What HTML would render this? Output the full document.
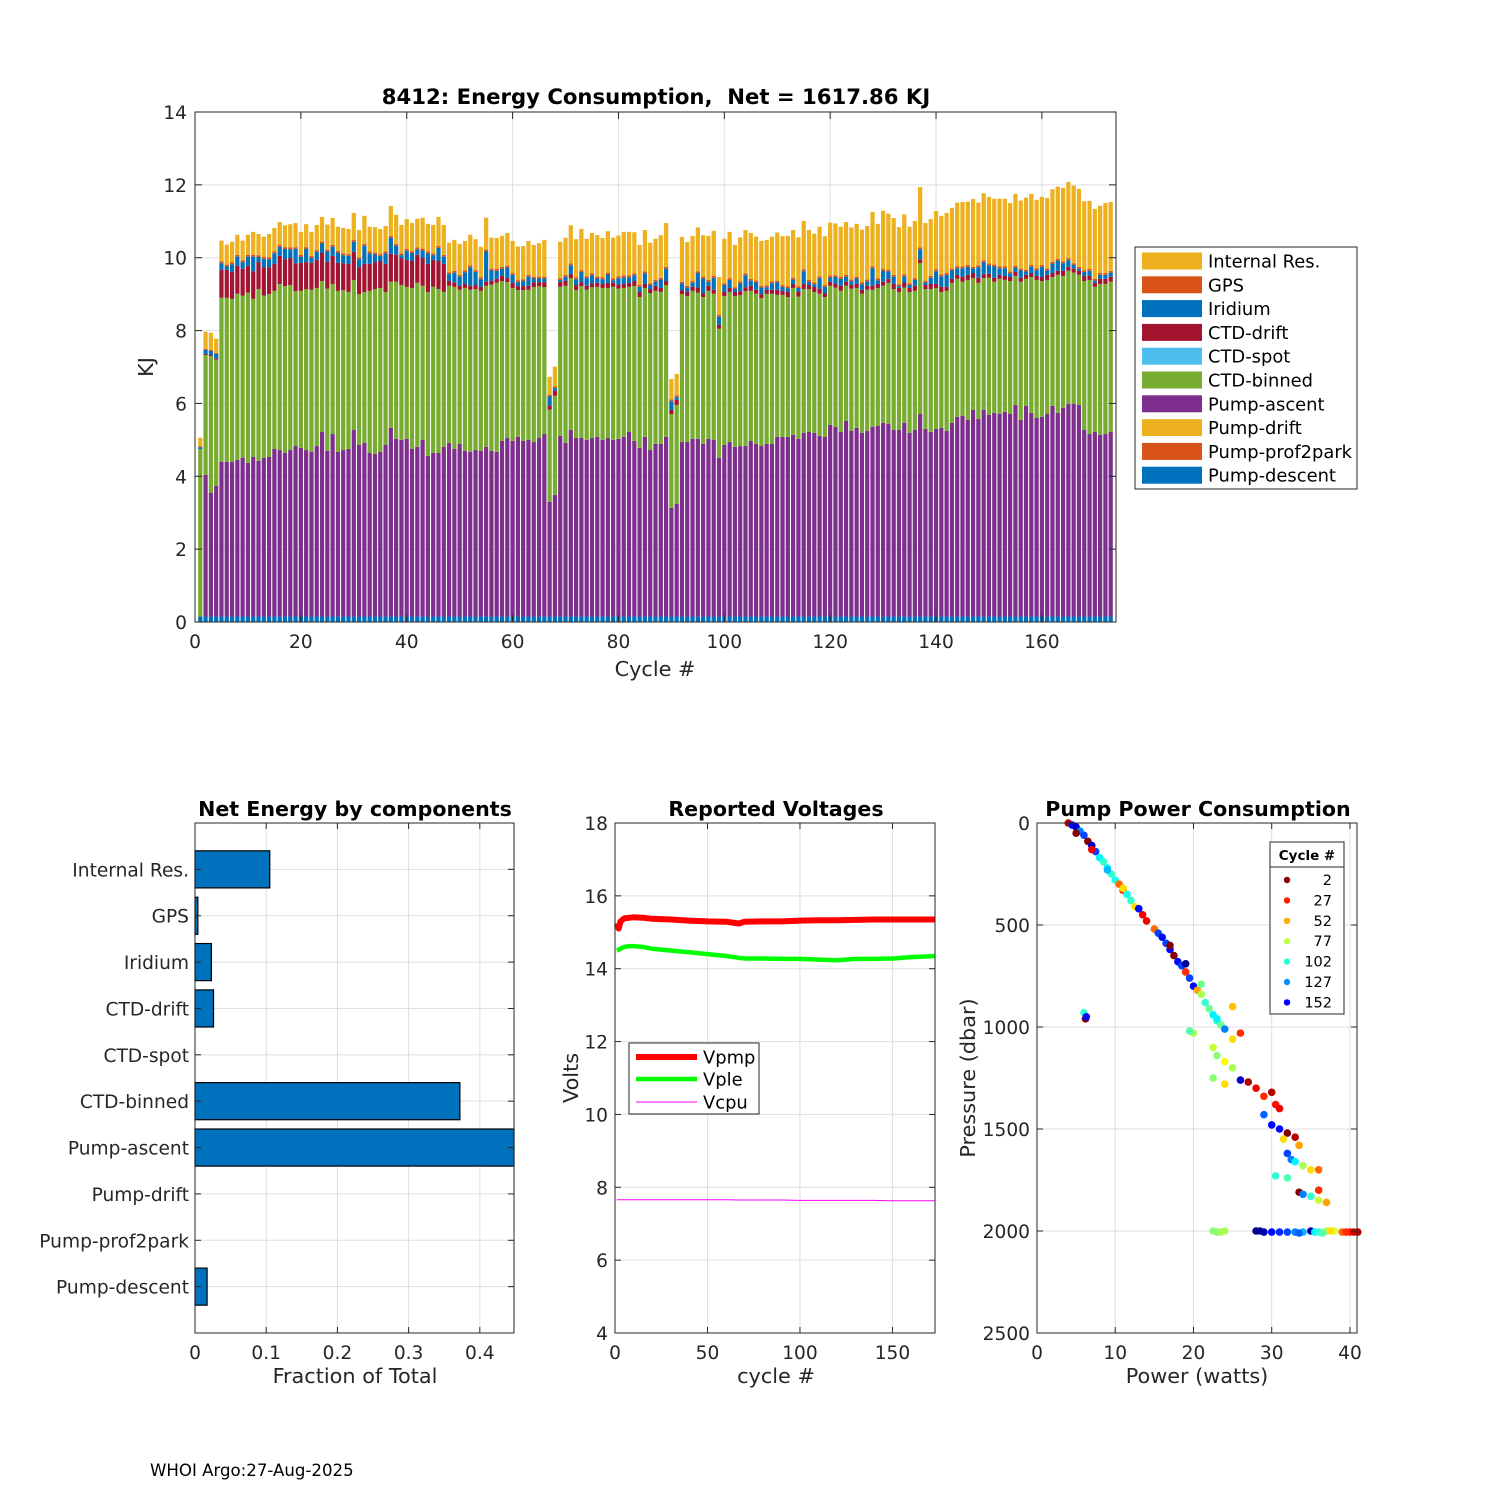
<!DOCTYPE html>
<html><head><meta charset="utf-8">
<style>
html,body{margin:0;padding:0;background:#fff;}
svg{display:block;font-family:"DejaVu Sans","Liberation Sans",sans-serif;}
text{white-space:pre;}
</style></head>
<body>
<svg id="fig" width="1500" height="1500" viewBox="0 0 1500 1500" xmlns="http://www.w3.org/2000/svg">
<rect x="0" y="0" width="1500" height="1500" fill="#fff"/>
<text x="150" y="1476" font-size="16.6" fill="#000">WHOI Argo:27-Aug-2025</text>
</svg>
<script>
// ===== Top chart data (KJ per cycle, cycles 1..173) =====
const pumpAscent=[0,3.89,3.40,3.59,4.25,4.25,4.25,4.30,4.36,4.22,4.38,4.27,4.36,4.38,4.60,4.57,4.49,4.57,4.68,4.63,4.57,4.52,4.68,5.07,4.55,5.01,4.52,4.57,4.60,5.12,4.71,4.77,4.49,4.46,4.52,4.71,5.18,4.88,4.85,4.88,4.60,4.66,4.85,4.41,4.49,4.49,4.66,4.77,4.60,4.74,4.55,4.52,4.57,4.55,4.66,4.55,4.52,4.82,4.90,4.82,4.93,4.82,4.85,4.79,4.90,5.01,3.15,3.34,4.96,4.77,5.12,4.90,4.90,4.85,4.90,4.93,4.85,4.90,4.85,4.88,4.93,5.07,4.82,4.63,4.93,4.57,4.74,4.74,4.93,2.98,3.09,4.79,4.79,4.88,4.88,4.74,4.88,4.85,4.36,4.71,4.79,4.66,4.68,4.68,4.82,4.74,4.68,4.74,4.74,4.93,4.93,4.93,4.99,4.88,5.04,5.07,5.04,4.96,4.93,5.26,5.21,5.07,5.37,5.10,5.18,5.04,5.10,5.21,5.23,5.32,5.29,5.12,5.12,5.32,5.04,5.12,5.56,5.15,5.07,5.15,5.18,5.10,5.32,5.48,5.51,5.40,5.67,5.43,5.67,5.54,5.59,5.56,5.62,5.56,5.81,5.40,5.78,5.59,5.45,5.48,5.56,5.78,5.59,5.73,5.84,5.84,5.81,5.12,5.01,5.07,4.99,5.01,5.07];
const ctdBinned=[4.6,3.29,3.75,3.46,4.50,4.50,4.47,4.56,4.45,4.67,4.34,4.72,4.45,4.47,4.34,4.56,4.58,4.53,4.25,4.31,4.42,4.45,4.34,4.14,4.45,4.12,4.42,4.39,4.31,4.12,4.14,4.14,4.45,4.53,4.50,4.20,4.01,4.31,4.25,4.17,4.42,4.50,4.23,4.50,4.56,4.50,4.25,4.31,4.45,4.23,4.47,4.45,4.42,4.39,4.42,4.56,4.64,4.39,4.28,4.20,4.03,4.14,4.12,4.25,4.17,4.03,2.53,2.72,4.09,4.31,4.17,4.06,4.17,4.12,4.14,4.12,4.17,4.12,4.20,4.12,4.09,3.98,4.25,4.14,4.09,4.31,4.20,4.17,4.17,2.58,2.72,4.06,4.01,4.06,4.01,4.03,4.06,4.01,3.54,4.09,4.12,4.14,4.14,4.25,4.12,4.12,4.06,4.12,4.12,3.90,3.90,3.84,4.03,3.90,3.95,3.92,3.87,3.90,3.84,3.82,3.82,3.87,3.71,3.90,3.84,3.82,3.87,3.76,3.79,3.76,3.87,3.87,3.79,3.71,3.87,3.82,4.14,3.84,3.92,3.87,3.73,3.84,3.84,3.79,3.68,3.84,3.62,3.73,3.62,3.76,3.60,3.71,3.62,3.65,3.54,3.79,3.49,3.73,3.79,3.73,3.68,3.54,3.79,3.62,3.65,3.60,3.57,4.09,4.23,3.98,4.14,4.12,4.12];
const ctdDrift=[0,0.03,0.03,0.03,0.77,0.77,0.74,0.77,0.74,0.74,0.75,0.74,0.77,0.74,0.74,0.77,0.74,0.74,0.77,0.77,0.74,0.74,0.77,0.77,0.74,0.77,0.77,0.74,0.77,0.77,0.74,0.77,0.74,0.74,0.74,0.77,0.77,0.74,0.74,0.74,0.74,0.77,0.77,0.77,0.74,0.77,0.77,0.14,0.11,0.11,0.11,0.11,0.11,0.11,0.11,0.11,0.11,0.14,0.11,0.14,0.11,0.11,0.11,0.14,0.11,0.14,0.11,0.14,0.14,0.14,0.11,0.14,0.11,0.11,0.11,0.11,0.11,0.14,0.11,0.11,0.11,0.11,0.14,0.14,0.11,0.11,0.14,0.11,0.11,0.11,0.14,0.11,0.11,0.11,0.14,0.11,0.14,0.11,0.11,0.11,0.11,0.11,0.11,0.11,0.14,0.11,0.11,0.11,0.11,0.14,0.11,0.14,0.11,0.14,0.14,0.11,0.14,0.14,0.11,0.11,0.11,0.14,0.11,0.11,0.11,0.11,0.11,0.11,0.11,0.11,0.11,0.14,0.11,0.14,0.11,0.14,0.11,0.11,0.14,0.11,0.14,0.11,0.11,0.11,0.14,0.14,0.14,0.14,0.11,0.11,0.11,0.11,0.11,0.11,0.11,0.11,0.11,0.11,0.11,0.11,0.14,0.11,0.11,0.14,0.11,0.11,0.11,0.14,0.11,0.11,0.14,0.14,0.14];
const iridium=[0.05,0.11,0.11,0.13,0.18,0.09,0.21,0.25,0.18,0.25,0.41,0.14,0.24,0.22,0.29,0.25,0.28,0.24,0.39,0.17,0.36,0.14,0.22,0.26,0.28,0.25,0.28,0.22,0.22,0.28,0.22,0.50,0.29,0.21,0.14,0.29,0.44,0.25,0.08,0.25,0.22,0.15,0.20,0.29,0.13,0.36,0.20,0.18,0.28,0.25,0.32,0.51,0.36,0.21,0.83,0.28,0.22,0.20,0.29,0.22,0.11,0.14,0.25,0.10,0.10,0.10,0.25,0.07,0.05,0.11,0.24,0.16,0.28,0.21,0.22,0.12,0.13,0.23,0.07,0.18,0.18,0.15,0.16,0.14,0.29,0.11,0.11,0.23,0.34,0.24,0.07,0.18,0.12,0.11,0.40,0.40,0.11,0.33,0.22,0.19,0.22,0.08,0.22,0.33,0.14,0.20,0.18,0.07,0.18,0.20,0.11,0.10,0.12,0.10,0.35,0.09,0.07,0.29,0.17,0.12,0.18,0.19,0.14,0.09,0.15,0.15,0.12,0.48,0.10,0.30,0.20,0.20,0.05,0.17,0.08,0.16,0.27,0.07,0.17,0.35,0.29,0.33,0.23,0.18,0.23,0.22,0.12,0.29,0.33,0.23,0.31,0.18,0.21,0.10,0.12,0.20,0.09,0.17,0.16,0.28,0.12,0.26,0.28,0.21,0.18,0.10,0.06,0.11,0.14,0.06,0.11,0.11,0.11];
const gpsVals=[0.02,0.03,0.03,0.03,0.05];
const internalRes=[0.24,0.47,0.47,0.39,0.57,0.55,0.57,0.55,0.54,0.55,0.63,0.58,0.56,0.64,0.65,0.63,0.60,0.64,0.66,0.63,0.63,0.66,0.69,0.68,0.69,0.74,0.66,0.70,0.69,0.74,0.75,0.77,0.68,0.70,0.69,0.70,0.82,0.80,0.78,0.82,0.77,0.79,0.85,0.76,0.78,0.80,0.82,0.81,0.85,0.85,0.81,0.84,0.85,0.84,0.88,0.85,0.85,0.85,0.90,0.88,0.93,0.91,0.93,0.87,0.92,1.01,0.49,0.54,1.00,1.02,1.05,1.05,1.13,1.03,1.11,1.14,1.08,1.14,1.12,1.12,1.20,1.20,1.13,1.10,1.14,1.11,1.13,1.17,1.20,0.56,0.59,1.23,1.20,1.24,1.20,1.14,1.21,1.24,1.04,1.22,1.27,1.16,1.21,1.19,1.26,1.21,1.23,1.25,1.23,1.32,1.34,1.39,1.31,1.34,1.33,1.37,1.34,1.36,1.34,1.45,1.42,1.38,1.45,1.43,1.45,1.45,1.47,1.50,1.50,1.60,1.54,1.56,1.57,1.65,1.55,1.57,1.66,1.58,1.56,1.60,1.61,1.65,1.67,1.75,1.77,1.74,1.86,1.72,1.84,1.83,1.81,1.86,1.86,1.88,1.97,1.87,1.98,1.95,1.88,1.87,1.94,1.99,1.98,2.02,2.10,2.13,2.14,1.89,1.87,1.92,1.85,1.92,1.89];
const pumpDescentVal=0.15;
const topYTicks=[0,2,4,6,8,10,12,14];
const topXTicks=[0,20,40,60,80,100,120,140,160];
const seriesNames=["Internal Res.","GPS","Iridium","CTD-drift","CTD-spot","CTD-binned","Pump-ascent","Pump-drift","Pump-prof2park","Pump-descent"];
const seriesColors=["#EDB120","#D95319","#0072BD","#A2142F","#4DBEEE","#77AC30","#7E2F8E","#EDB120","#D95319","#0072BD"];

// ===== Bottom-left: fraction of total =====
const fracCategories=["Internal Res.","GPS","Iridium","CTD-drift","CTD-spot","CTD-binned","Pump-ascent","Pump-drift","Pump-prof2park","Pump-descent"];
const fracValues=[0.105,0.004,0.023,0.026,0,0.372,0.448,0,0,0.017];
const fracXTicks=[0,0.1,0.2,0.3,0.4];

// ===== Bottom-middle: voltages =====
const voltCycles=[1,2,3,5,8,10,15,20,30,40,50,60,67,70,80,90,100,110,120,130,140,150,160,173];
const vpmp=[15.25,15.1,15.3,15.38,15.4,15.41,15.4,15.37,15.35,15.32,15.3,15.29,15.24,15.29,15.3,15.3,15.32,15.33,15.33,15.34,15.35,15.35,15.35,15.35];
const vple=[14.5,14.52,14.55,14.6,14.62,14.62,14.6,14.55,14.5,14.45,14.4,14.35,14.3,14.28,14.28,14.27,14.27,14.25,14.23,14.27,14.27,14.28,14.32,14.35];
const vcpu=[7.66,7.66,7.66,7.66,7.66,7.66,7.66,7.66,7.66,7.66,7.66,7.66,7.65,7.65,7.65,7.65,7.64,7.64,7.64,7.64,7.64,7.63,7.63,7.63];
const voltYTicks=[4,6,8,10,12,14,16,18];
const voltXTicks=[0,50,100,150];

// ===== Bottom-right: pump power scatter =====
const scPower=[4,4.5,5,5.5,6,6.5,7,7.5,8,8.5,9,9.5,10,10.5,11,11.5,12,12.5,13,13.5,14,15,15.5,16,16.5,17,17.5,18,18.5,19,19.5,20,20.5,21,21.5,22,22.5,23,23.5,24,25,26,25,6,6.2,6.3,20,19.5,22.5,23,24,25,22.5,24,27,26,28,29,30,30.5,31,29,30,31,32,31.5,33,33.5,32,32.5,33,34,35,36,30.5,32,33.5,34,35,36,37,36,22.5,23,23.5,24,28,28.5,29,30,31,32,33,34,35,35.5,36,37,38,39,40,41,37.5,36.5,33.5,39.5,40.5,5,7,9,11,13,17,19,21,23];
const scPressure=[0,10,20,40,60,90,110,140,170,190,220,250,280,300,330,350,380,410,420,450,480,520,540,560,590,620,650,680,700,730,760,800,820,840,880,910,940,970,990,1010,900,1030,1060,930,960,950,1030,1020,1100,1140,1170,1200,1250,1280,1270,1260,1300,1340,1320,1380,1400,1430,1480,1500,1520,1550,1540,1580,1620,1650,1660,1680,1700,1700,1730,1740,1810,1820,1830,1850,1860,1800,2000,2005,2005,2000,2000,2000,2005,2005,2005,2005,2005,2005,2000,2005,2005,2000,2000,2005,2005,2005,2000,2010,2010,2005,2005,50,130,230,320,420,600,690,790,960];
const scCycle=[10,150,160,130,140,2,160,140,110,100,110,100,105,40,30,105,100,60,130,20,20,40,140,150,140,150,2,150,140,30,140,150,50,80,100,90,110,100,90,130,55,30,60,100,2,150,80,95,75,85,65,80,85,60,10,160,20,30,10,25,20,135,150,150,2,60,10,50,140,130,110,80,60,40,100,95,2,130,100,75,50,30,85,85,80,80,170,168,165,150,145,140,130,120,168,110,100,80,70,40,25,10,60,95,135,30,15,2,20,120,60,150,2,170,90,110];
const scLegendCycles=[2,27,52,77,102,127,152];
const pressYTicks=[0,500,1000,1500,2000,2500];
const powerXTicks=[0,10,20,30,40];

const NS="http://www.w3.org/2000/svg";
const svg=document.getElementById('fig');
function el(tag,attrs,parent){const e=document.createElementNS(NS,tag);for(const k in attrs)e.setAttribute(k,attrs[k]);(parent||svg).appendChild(e);return e;}
const AX="#262626", GRID="#dfdfdf";
const TICK=18.6, LAB=20.8, TTL=21.2, LEG=17.9;

function jetRev(c){const v=1-(c-1)/172;const cl=x=>Math.max(0,Math.min(1,x));
 const r=cl(1.5-Math.abs(4*v-3)),g=cl(1.5-Math.abs(4*v-2)),b=cl(1.5-Math.abs(4*v-1));
 return `rgb(${Math.round(r*255)},${Math.round(g*255)},${Math.round(b*255)})`;}

function axesFrame(g,x0,y0,w,h,name){
 const r=el('rect',{x:x0,y:y0,width:w,height:h,fill:'none',stroke:AX,'stroke-width':1},g);
 
 
}
function txt(g,x,y,s,attrs){const t=el('text',Object.assign({x:x,y:y,'font-size':TICK,fill:AX},attrs||{}),g);t.textContent=s;return t;}

// ================= TOP CHART =================
(function(){
 const g=el('g',{});
 
 
 const X0=195,X1=1116,Y0=112,Y1=622,xmax=174,ymax=14;
 const sx=c=>X0+c*(X1-X0)/xmax, sy=v=>Y1-v*(Y1-Y0)/ymax;
 topXTicks.forEach(t=>{const l=el('line',{x1:sx(t),x2:sx(t),y1:Y0,y2:Y1,stroke:GRID},g);
  
  });
 topYTicks.forEach(t=>{const l=el('line',{x1:X0,x2:X1,y1:sy(t),y2:sy(t),stroke:GRID},g);
  
  });
 const bw=(X1-X0)/xmax*0.8;
 for(let i=0;i<pumpAscent.length;i++){
  const c=i+1;
  const gps=i<gpsVals.length?gpsVals[i]:0.05;
  const comps=[[pumpDescentVal,9],[pumpAscent[i],6],[ctdBinned[i],5],[0,4],[ctdDrift[i],3],[iridium[i],2],[gps,1],[internalRes[i],0]];
  let base=0;
  comps.forEach(([v,si])=>{
   if(v<=0) return;
   const r=el('rect',{x:sx(c)-bw/2,y:sy(base+v),width:bw,height:sy(base)-sy(base+v),fill:seriesColors[si]},g);
   
   
   base+=v;
  });
 }
 axesFrame(g,X0,Y0,X1-X0,Y1-Y0,'top-axes');
 topXTicks.forEach(t=>{el('line',{x1:sx(t),x2:sx(t),y1:Y1,y2:Y1-7,stroke:AX},g);el('line',{x1:sx(t),x2:sx(t),y1:Y0,y2:Y0+7,stroke:AX},g);
  const tl=txt(g,sx(t),Y1+26,String(t),{'text-anchor':'middle'});
  
  });
 topYTicks.forEach(t=>{el('line',{x1:X0,x2:X0+7,y1:sy(t),y2:sy(t),stroke:AX},g);el('line',{x1:X1,x2:X1-7,y1:sy(t),y2:sy(t),stroke:AX},g);
  const tl=txt(g,X0-8,sy(t)+7,String(t),{'text-anchor':'end'});
  
  });
 const title=txt(g,656,104,'8412: Energy Consumption,  Net = 1617.86 KJ',{'text-anchor':'middle','font-size':TTL,'font-weight':'bold',fill:'#000'});
 
 
 const xl=txt(g,655,676,'Cycle #',{'text-anchor':'middle','font-size':LAB});
 
 
 const yl=txt(g,0,0,'KJ',{'text-anchor':'middle','font-size':LAB,transform:'translate(153,367) rotate(-90)'});
 
 
 // legend
 const lg=el('g',{},g);
 
 
 el('rect',{x:1135,y:247,width:222,height:242,fill:'#fff',stroke:AX},lg);
 seriesNames.forEach((n,k)=>{
  const y=261+k*23.8;
  const sw=el('rect',{x:1142,y:y-8.5,width:60,height:17,fill:seriesColors[k]},lg);
  
  
  const t=txt(lg,1208,y+6.5,n,{'font-size':LEG,fill:'#000'});
  
  
 });
})();

// ================= BOTTOM LEFT =================
(function(){
 const g=el('g',{});
 
 
 const X0=195,X1=514,Y0=823,Y1=1333,xmax=0.448;
 const sx=v=>X0+v*(X1-X0)/xmax, sy=k=>Y0+(k+1)*(Y1-Y0)/11;
 fracXTicks.forEach(t=>{const l=el('line',{x1:sx(t),x2:sx(t),y1:Y0,y2:Y1,stroke:GRID},g);
  
  });
 fracCategories.forEach((c,k)=>{const l=el('line',{x1:X0,x2:X1,y1:sy(k),y2:sy(k),stroke:GRID},g);
  
  });
 const bh=(Y1-Y0)/11*0.8;
 fracValues.forEach((v,k)=>{
  if(v<=0) return;
  const r=el('rect',{x:X0,y:sy(k)-bh/2,width:sx(v)-X0,height:bh,fill:'#0072BD',stroke:'#000','stroke-width':1.2},g);
  
  
 });
 axesFrame(g,X0,Y0,X1-X0,Y1-Y0,'fraction-axes');
 fracXTicks.forEach(t=>{el('line',{x1:sx(t),x2:sx(t),y1:Y1,y2:Y1-6,stroke:AX},g);el('line',{x1:sx(t),x2:sx(t),y1:Y0,y2:Y0+6,stroke:AX},g);
  const tl=txt(g,sx(t),Y1+26,String(t),{'text-anchor':'middle'});
  
  });
 fracCategories.forEach((c,k)=>{el('line',{x1:X0,x2:X0+6,y1:sy(k),y2:sy(k),stroke:AX},g);el('line',{x1:X1,x2:X1-6,y1:sy(k),y2:sy(k),stroke:AX},g);
  const tl=txt(g,X0-6,sy(k)+7,c,{'text-anchor':'end'});
  
  });
 const title=txt(g,355,816,'Net Energy by components',{'text-anchor':'middle','font-size':20.6,'font-weight':'bold',fill:'#000'});
 
 
 const xl=txt(g,355,1383,'Fraction of Total',{'text-anchor':'middle','font-size':LAB});
 
 
})();

// ================= BOTTOM MIDDLE =================
(function(){
 const g=el('g',{});
 
 
 const X0=615,X1=935,Y0=823,Y1=1333,xmax=173,ymin=4,ymax=18;
 const sx=c=>X0+c*(X1-X0)/xmax, sy=v=>Y1-(v-ymin)*(Y1-Y0)/(ymax-ymin);
 voltXTicks.forEach(t=>{const l=el('line',{x1:sx(t),x2:sx(t),y1:Y0,y2:Y1,stroke:GRID},g);
  
  });
 voltYTicks.forEach(t=>{const l=el('line',{x1:X0,x2:X1,y1:sy(t),y2:sy(t),stroke:GRID},g);
  
  });
 function line(vals,color,w,name){
  const d=vals.map((v,i)=>(i?'L':'M')+sx(voltCycles[i]).toFixed(1)+','+sy(v).toFixed(1)).join('');
  const p=el('path',{d:d,fill:'none',stroke:color,'stroke-width':w,'stroke-linejoin':'round'},g);
  
  
 }
 line(vpmp,'#ff0000',6,'vpmp-line');
 line(vple,'#00ff00',4.5,'vple-line');
 line(vcpu,'#ff00ff',1,'vcpu-line');
 axesFrame(g,X0,Y0,X1-X0,Y1-Y0,'voltage-axes');
 voltXTicks.forEach(t=>{el('line',{x1:sx(t),x2:sx(t),y1:Y1,y2:Y1-6,stroke:AX},g);el('line',{x1:sx(t),x2:sx(t),y1:Y0,y2:Y0+6,stroke:AX},g);
  const tl=txt(g,sx(t),Y1+26,String(t),{'text-anchor':'middle'});
  
  });
 voltYTicks.forEach(t=>{el('line',{x1:X0,x2:X0+6,y1:sy(t),y2:sy(t),stroke:AX},g);el('line',{x1:X1,x2:X1-6,y1:sy(t),y2:sy(t),stroke:AX},g);
  const tl=txt(g,X0-7,sy(t)+7,String(t),{'text-anchor':'end'});
  
  });
 const title=txt(g,776,816,'Reported Voltages',{'text-anchor':'middle','font-size':20.6,'font-weight':'bold',fill:'#000'});
 
 
 const xl=txt(g,776,1383,'cycle #',{'text-anchor':'middle','font-size':LAB});
 
 
 const yl=txt(g,0,0,'Volts',{'text-anchor':'middle','font-size':LAB,transform:'translate(578,1078) rotate(-90)'});
 
 
 const lg=el('g',{},g);
 
 
 el('rect',{x:629,y:1043,width:130,height:71,fill:'#fff',stroke:AX},lg);
 [['Vpmp','#ff0000',6,1057],['Vple','#00ff00',4.5,1079],['Vcpu','#ff00ff',1,1102]].forEach(([n,c,w,y])=>{
  el('line',{x1:636,x2:697,y1:y,y2:y,stroke:c,'stroke-width':w},lg);
  const t=txt(lg,703,y+6.5,n,{'font-size':LEG,fill:'#000'});
  
  
 });
})();

// ================= BOTTOM RIGHT =================
(function(){
 const g=el('g',{});
 
 
 const X0=1037,X1=1357,Y0=823,Y1=1333,xmax=40.9,ymax=2500;
 const sx=p=>X0+p*(X1-X0)/xmax, sy=v=>Y0+v*(Y1-Y0)/ymax;
 powerXTicks.forEach(t=>{const l=el('line',{x1:sx(t),x2:sx(t),y1:Y0,y2:Y1,stroke:GRID},g);
  
  });
 pressYTicks.forEach(t=>{const l=el('line',{x1:X0,x2:X1,y1:sy(t),y2:sy(t),stroke:GRID},g);
  
  });
 scPower.forEach((p,i)=>{
  const c=el('circle',{cx:sx(p),cy:sy(scPressure[i]),r:3.8,fill:jetRev(scCycle[i])},g);
  
  
 });
 axesFrame(g,X0,Y0,X1-X0,Y1-Y0,'pump-axes');
 powerXTicks.forEach(t=>{el('line',{x1:sx(t),x2:sx(t),y1:Y1,y2:Y1-6,stroke:AX},g);el('line',{x1:sx(t),x2:sx(t),y1:Y0,y2:Y0+6,stroke:AX},g);
  const tl=txt(g,sx(t),Y1+26,String(t),{'text-anchor':'middle'});
  
  });
 pressYTicks.forEach(t=>{el('line',{x1:X0,x2:X0+6,y1:sy(t),y2:sy(t),stroke:AX},g);el('line',{x1:X1,x2:X1-6,y1:sy(t),y2:sy(t),stroke:AX},g);
  const tl=txt(g,X0-7,sy(t)+7,String(t),{'text-anchor':'end'});
  
  });
 const title=txt(g,1198,816,'Pump Power Consumption',{'text-anchor':'middle','font-size':20.6,'font-weight':'bold',fill:'#000'});
 
 
 const xl=txt(g,1197,1383,'Power (watts)',{'text-anchor':'middle','font-size':LAB});
 
 
 const yl=txt(g,0,0,'Pressure (dbar)',{'text-anchor':'middle','font-size':LAB,transform:'translate(975,1078) rotate(-90)'});
 
 
 const lg=el('g',{},g);
 
 
 el('rect',{x:1270,y:842,width:74,height:172,fill:'#fff',stroke:AX},lg);
 el('line',{x1:1270,x2:1344,y1:867,y2:867,stroke:AX},lg);
 const h=txt(lg,1307,860,'Cycle #',{'text-anchor':'middle','font-size':13.5,'font-weight':'bold',fill:'#000'});
 
 
 scLegendCycles.forEach((c,k)=>{
  const y=880+k*20.4;
  el('circle',{cx:1287,cy:y,r:3.2,fill:jetRev(c)},lg);
  const t=txt(lg,1332,y+5,String(c),{'text-anchor':'end','font-size':14.5,fill:'#000'});
  
  
 });
})();
</script>
</body></html>
